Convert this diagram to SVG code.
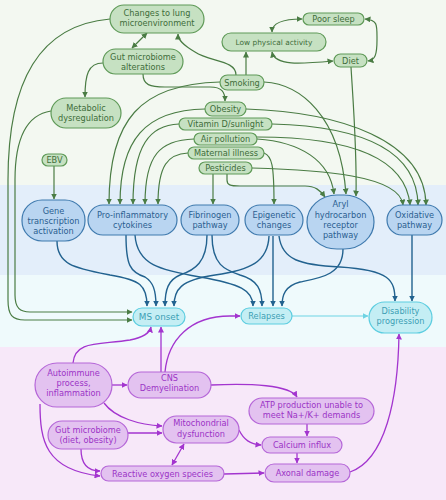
<svg xmlns="http://www.w3.org/2000/svg" width="446" height="500" viewBox="0 0 446 500">
<style>
text{font-family:"DejaVu Sans","Liberation Sans",sans-serif;font-size:8.2px;text-anchor:middle}
.g rect{fill:#c6e1c2;stroke:#5f9a58;stroke-width:1.2}
.g text{fill:#3e6d3a}
.b rect{fill:#b9d5f1;stroke:#3f7aae;stroke-width:1.2}
.b text{fill:#2b5e90}
.c rect{fill:#c4eef4;stroke:#5ccde0;stroke-width:1.2}
.c text{fill:#3d9fb5}
.p rect{fill:#e3c2f0;stroke:#b566d8;stroke-width:1.2}
.p text{fill:#9b34c6}
.eg path{fill:none;stroke:#4a7c44;stroke-width:1.2;marker-end:url(#mg)}
.eb path{fill:none;stroke:#22628f;stroke-width:1.4;marker-end:url(#mb)}
.ec path{fill:none;stroke:#6fd3e3;stroke-width:1.2;marker-end:url(#mc)}
.ep path{fill:none;stroke:#a335cf;stroke-width:1.3;marker-end:url(#mp)}
.eg path.d{marker-start:url(#mg)}
.ep path.d{marker-start:url(#mp)}
</style>
<defs>
<marker id="mg" markerUnits="userSpaceOnUse" markerWidth="6" markerHeight="6" refX="5.5" refY="3" orient="auto-start-reverse"><path d="M0,0 L6,3 L0,6 z" fill="#4a7c44"/></marker>
<marker id="mb" markerUnits="userSpaceOnUse" markerWidth="6" markerHeight="6" refX="5.5" refY="3" orient="auto-start-reverse"><path d="M0,0 L6,3 L0,6 z" fill="#22628f"/></marker>
<marker id="mc" markerUnits="userSpaceOnUse" markerWidth="6" markerHeight="6" refX="5.5" refY="3" orient="auto-start-reverse"><path d="M0,0 L6,3 L0,6 z" fill="#6fd3e3"/></marker>
<marker id="mp" markerUnits="userSpaceOnUse" markerWidth="6" markerHeight="6" refX="5.5" refY="3" orient="auto-start-reverse"><path d="M0,0 L6,3 L0,6 z" fill="#a335cf"/></marker>
</defs>
<rect x="0" y="0" width="446" height="185" fill="#f3f8f1"/>
<rect x="0" y="185" width="446" height="90" fill="#e3eefa"/>
<rect x="0" y="275" width="446" height="72" fill="#effafc"/>
<rect x="0" y="347" width="446" height="153" fill="#f7e8f9"/>
<g id="connectors">
<g class="eg">
<path class="d" d="M147,33 L132,48"/>
<path d="M103,63 C88,63 85,75 85,97"/>
<path d="M143,74 C143,85 150,87 165,87 L210,87 C222,87 225,92 225,101"/>
<path d="M236,75 C236,60 210,62 195,52 C183,45 178,40 178,34"/>
<path d="M246,75 L246,52"/>
<path class="d" d="M302,19 C285,19 272,22 272,32"/>
<path class="d" d="M365,19 C378,20 377,25 377,40 C377,55 375,60 368,61"/>
<path class="d" d="M333,61 C300,64 275,66 272,52"/>
<path d="M351,67 C353,100 357,150 356,196"/>
<path d="M264,82 C300,84 340,115 346,194"/>
<path d="M257,139 C300,142 330,160 334,194"/>
<path d="M227,174 L227,180 C227,185 230,186 240,186 L305,186 C315,186 320,190 325,197"/>
<path d="M252,168 C320,170 400,175 403,205"/>
<path d="M257,137 C330,137 405,150 410,205"/>
<path d="M272,124 C350,126 417,145 418,205"/>
<path d="M246,109 C340,112 425,140 426,205"/>
<path d="M264,153 C272,156 274,165 274,204"/>
<path d="M213,174 L213,204"/>
<path d="M220,82 C140,84 109,120 109,204"/>
<path d="M205,109 C145,110 120,140 120,204"/>
<path d="M179,124 C150,125 133,145 133,204"/>
<path d="M194,139 C160,140 145,155 145,204"/>
<path d="M188,153 C168,154 158,165 158,204"/>
<path d="M54,166 L54,199"/>
<path d="M110,19 C40,25 8,80 8,180 L8,300 C8,315 12,320 25,320 L132,320"/>
<path d="M51,111 C25,115 15,140 15,180 L15,295 C15,308 20,312 30,312 L132,312"/>
</g>
<g class="eb">
<path d="M57,241 C57,265 75,268 110,275 C140,280 147,285 147,306"/>
<path d="M126,235 C126,265 130,272 145,277 C153,282 156,290 156,306"/>
<path d="M135,235 C137,265 160,270 200,277 C240,284 253,290 253,306"/>
<path d="M207,235 C207,262 195,270 180,275 C168,280 165,290 165,306"/>
<path d="M212,235 C212,265 225,270 240,275 C258,280 262,290 262,306"/>
<path d="M269,236 C268,262 250,270 215,275 C180,280 174,290 174,306"/>
<path d="M273,236 L273,306"/>
<path d="M279,236 C282,260 300,265 340,267 C390,270 395,280 395,301"/>
<path d="M343,249 C343,275 320,278 300,282 C285,286 282,295 282,306"/>
<path d="M412,235 L412,301"/>
</g>
<g class="ec">
<path d="M292,316 L368,316"/>
</g>
<g class="ep">
<path d="M73,363 C75,340 100,345 130,340 C145,337 150,332 151,327"/>
<path d="M161,372 L161,327"/>
<path d="M165,372 C168,340 190,316 230,316 L240,316"/>
<path d="M112,385 L127,385"/>
<path d="M104,403 C115,418 140,425 162,426"/>
<path d="M40,404 C40,440 45,470 100,476"/>
<path d="M128,433 L162,433"/>
<path d="M81,449 C81,465 88,471 100,471"/>
<path class="d" d="M184,444 L172,465"/>
<path d="M211,385 C250,383 290,385 297,397"/>
<path d="M307,424 L307,436"/>
<path d="M239,430 C244,440 250,444 261,445"/>
<path d="M297,453 L297,463"/>
<path d="M224,474 L264,473"/>
<path d="M350,472 C385,460 398,400 399,334"/>
</g>
</g>
<g id="n-lung" class="g"><rect x="110" y="5" width="94" height="28" rx="14"/><text x="157" y="16">Changes to lung</text><text x="157" y="26">microenvironment</text></g>
<g id="n-gut" class="g"><rect x="103" y="49" width="80" height="25" rx="12.5"/><text x="143" y="59.5">Gut microbiome</text><text x="143" y="69.5">alterations</text></g>
<g id="n-metab" class="g"><rect x="51" y="98" width="70" height="30" rx="15"/><text x="86" y="111">Metabolic</text><text x="86" y="121">dysregulation</text></g>
<g id="n-ebv" class="g"><rect x="42" y="154" width="25" height="12" rx="6"/><text x="54.5" y="163">EBV</text></g>
<g id="n-sleep" class="g"><rect x="303" y="13" width="61" height="12" rx="6"/><text x="333.5" y="22">Poor sleep</text></g>
<g id="n-lpa" class="g"><rect x="222" y="33" width="104" height="18" rx="9"/><text x="274" y="45" style="font-size:7.4px">Low physical activity</text></g>
<g id="n-diet" class="g"><rect x="334" y="54" width="33" height="13" rx="6.5"/><text x="350.5" y="63.5">Diet</text></g>
<g id="n-smoking" class="g"><rect x="220" y="75" width="44" height="15" rx="7.5"/><text x="242" y="85.5">Smoking</text></g>
<g id="n-obesity" class="g"><rect x="205" y="102" width="41" height="14" rx="7"/><text x="225.5" y="112">Obesity</text></g>
<g id="n-vitd" class="g"><rect x="179" y="118" width="93" height="12" rx="6"/><text x="225.5" y="127">Vitamin D/sunlight</text></g>
<g id="n-air" class="g"><rect x="194" y="133" width="63" height="12" rx="6"/><text x="225.5" y="142">Air pollution</text></g>
<g id="n-maternal" class="g"><rect x="188" y="147" width="76" height="12" rx="6"/><text x="226" y="156">Maternal illness</text></g>
<g id="n-pest" class="g"><rect x="199" y="162" width="53" height="12" rx="6"/><text x="225.5" y="171">Pesticides</text></g>
<g id="n-gene" class="b"><rect x="22" y="200" width="63" height="41" rx="20"/><text x="53.5" y="213.5">Gene</text><text x="53.5" y="223.5">transcription</text><text x="53.5" y="233.5">activation</text></g>
<g id="n-proinf" class="b"><rect x="88" y="205" width="89" height="30" rx="15"/><text x="132.5" y="218">Pro-inflammatory</text><text x="132.5" y="228">cytokines</text></g>
<g id="n-fib" class="b"><rect x="181" y="205" width="58" height="30" rx="15"/><text x="210" y="218">Fibrinogen</text><text x="210" y="228">pathway</text></g>
<g id="n-epi" class="b"><rect x="245" y="205" width="58" height="30" rx="15"/><text x="274" y="218">Epigenetic</text><text x="274" y="228">changes</text></g>
<g id="n-aryl" class="b"><rect x="307" y="195" width="67" height="54" rx="30"/><text x="340.5" y="207">Aryl</text><text x="340.5" y="217.5">hydrocarbon</text><text x="340.5" y="228">receptor</text><text x="340.5" y="238">pathway</text></g>
<g id="n-oxi" class="b"><rect x="387" y="205" width="55" height="30" rx="15"/><text x="414.5" y="218">Oxidative</text><text x="414.5" y="228">pathway</text></g>
<g id="n-ms" class="c"><rect x="133" y="308" width="52" height="18" rx="9"/><text x="159" y="319.5" style="font-size:8.8px">MS onset</text></g>
<g id="n-relapses" class="c"><rect x="241" y="308" width="51" height="16" rx="8"/><text x="266.5" y="319">Relapses</text></g>
<g id="n-disab" class="c"><rect x="369" y="302" width="63" height="31" rx="15.5"/><text x="400.5" y="313.7">Disability</text><text x="400.5" y="324">progression</text></g>
<g id="n-auto" class="p"><rect x="35" y="363" width="77" height="44" rx="22"/><text x="73.5" y="375.7">Autoimmune</text><text x="73.5" y="385.7">process,</text><text x="73.5" y="396">inflammation</text></g>
<g id="n-cns" class="p"><rect x="128" y="372" width="83" height="26" rx="13"/><text x="169.5" y="380.7">CNS</text><text x="169.5" y="390.7">Demyelination</text></g>
<g id="n-gutdiet" class="p"><rect x="48" y="421" width="80" height="28" rx="14"/><text x="88" y="433">Gut microbiome</text><text x="88" y="443">(diet, obesity)</text></g>
<g id="n-mito" class="p"><rect x="163" y="416" width="76" height="27" rx="13.5"/><text x="201" y="426.3">Mitochondrial</text><text x="201" y="437">dysfunction</text></g>
<g id="n-ros" class="p"><rect x="101" y="466" width="123" height="15" rx="7.5"/><text x="162.5" y="476.5">Reactive oxygen species</text></g>
<g id="n-atp" class="p"><rect x="249" y="398" width="125" height="26" rx="13"/><text x="311.5" y="408">ATP production unable to</text><text x="311.5" y="418.3">meet Na+/K+ demands</text></g>
<g id="n-ca" class="p"><rect x="262" y="437" width="80" height="16" rx="8"/><text x="302" y="448">Calcium influx</text></g>
<g id="n-axon" class="p"><rect x="265" y="464" width="85" height="18" rx="9"/><text x="307.5" y="475.7">Axonal damage</text></g>
</svg>
